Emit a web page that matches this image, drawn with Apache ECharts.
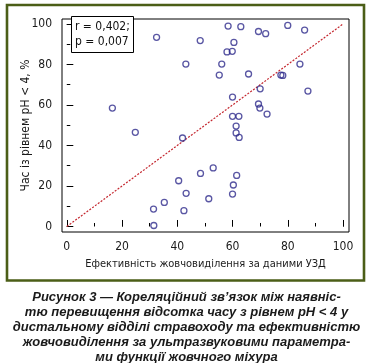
<!DOCTYPE html>
<html>
<head>
<meta charset="utf-8">
<script src="https://cdn.jsdelivr.net/npm/echarts@6/dist/echarts.min.js"></script>
<style>
html,body{margin:0;padding:0;background:#fff;}
#c{width:373px;height:363px;}
</style>
</head>
<body>
<div id="c"></div>
<script>
// Data
const xValues = [16.5, 24.8, 31.5, 31.4, 32.5, 35.3, 40.5, 41.9, 42.4, 43.2, 43.1, 48.3, 48.4, 51.4, 53.0,
  55.2, 56.1, 58.0, 59.9, 58.4, 60.0, 60.5, 60.0, 62.3, 61.3, 61.3, 62.4, 61.5, 60.3, 60.0,
  63.0, 65.8, 69.4, 72.0, 70.0, 69.4, 69.9, 72.5, 77.5, 78.2, 80.0, 84.4, 86.1, 87.3];
const yValues = [58.5, 46.5, 0.5, 8.6, 93.4, 11.9, 22.6, 43.7, 7.8, 16.4, 80.2, 91.8, 26.2, 13.7, 28.9,
  74.8, 80.2, 86.2, 86.5, 99.0, 63.9, 90.9, 54.4, 54.4, 49.6, 46.2, 44.0, 25.2, 20.5, 16.0,
  98.7, 75.3, 96.3, 95.2, 68.0, 60.5, 58.5, 55.5, 74.8, 74.6, 99.3, 80.2, 97.0, 66.9];
const refLineX = [0, 100];
const refLineY = [0, 100];
const majorTicks = [0, 20, 40, 60, 80, 100];
const minorTicks = [0, 10, 20, 30, 40, 50, 60, 70, 80, 90, 100];
const xAxisName = 'Ефективність жовчовиділення за даними УЗД';
const yAxisName = 'Час із рівнем pH < 4, %';
const statsText = 'r = 0,402;\np = 0,007';
const captionLines = [
  'Рисунок 3 — Кореляційний зв’язок між наявніс-',
  'тю перевищення відсотка часу з рівнем pH < 4 у',
  'дистальному відділі стравоходу та ефективністю',
  'жовчовиділення за ультразвуковими параметра-',
  'ми функції жовчного міхура'
];

const narrow = "'Liberation Sans Narrow', 'Arial Narrow', 'DejaVu Sans Condensed', sans-serif";
const scatterData = xValues.map((x, i) => [x, yValues[i]]);
const lineData = refLineX.map((x, i) => [x, refLineY[i]]);

const X_MIN = -1.74, X_MAX = 102.17, Y_MIN = -2.72, Y_MAX = 102.47;

const chart = echarts.init(document.getElementById('c'), null, {renderer: 'canvas'});
chart.setOption({
  animation: false,
  backgroundColor: '#fff',
  title: {
    text: statsText,
    left: 71, top: 16,
    padding: [3, 4, 4, 4],
    borderWidth: 1, borderColor: '#000',
    backgroundColor: '#fff',
    textStyle: {fontFamily: narrow, fontSize: 12, fontWeight: 'normal', lineHeight: 15, color: '#111'}
  },
  grid: {left: 62, right: 24, top: 19, bottom: 131, show: true, borderColor: '#000', borderWidth: 1, backgroundColor: 'transparent'},
  xAxis: [{
    type: 'value', min: X_MIN, max: X_MAX,
    axisLine: {show: false}, splitLine: {show: false},
    axisTick: {show: true, inside: true, length: 3.5, lineStyle: {color: '#000'}, customValues: minorTicks},
    axisLabel: {show: false}
  }, {
    type: 'value', min: X_MIN, max: X_MAX, position: 'bottom',
    axisLine: {show: false}, splitLine: {show: false},
    axisTick: {show: true, inside: true, length: 6.5, lineStyle: {color: '#000'}, customValues: majorTicks},
    axisLabel: {show: true, customValues: majorTicks, margin: 9, fontFamily: narrow, fontSize: 12, color: '#1a1a1a'},
    name: xAxisName, nameLocation: 'middle', nameGap: 27, nameMoveOverlap: false,
    nameTextStyle: {fontFamily: narrow, fontSize: 11, color: '#1a1a1a'}
  }],
  yAxis: [{
    type: 'value', min: Y_MIN, max: Y_MAX,
    axisLine: {show: false}, splitLine: {show: false},
    axisTick: {show: true, inside: true, length: 3.5, lineStyle: {color: '#000'}, customValues: minorTicks},
    axisLabel: {show: false}
  }, {
    type: 'value', min: Y_MIN, max: Y_MAX, position: 'left',
    axisLine: {show: false}, splitLine: {show: false},
    axisTick: {show: true, inside: true, length: 6.5, lineStyle: {color: '#000'}, customValues: majorTicks},
    axisLabel: {show: true, customValues: majorTicks, margin: 10, fontFamily: narrow, fontSize: 12, color: '#1a1a1a'},
    name: yAxisName, nameLocation: 'middle', nameGap: 30, nameMoveOverlap: false,
    nameTextStyle: {fontFamily: narrow, fontSize: 12, color: '#1a1a1a'}
  }],
  series: [{
    type: 'line', xAxisIndex: 0, yAxisIndex: 0,
    data: lineData, symbol: 'none',
    lineStyle: {color: '#c4262e', width: 1.2, type: [2, 1.5]},
    z: 2
  }, {
    type: 'scatter', xAxisIndex: 0, yAxisIndex: 0,
    data: scatterData, symbol: 'circle', symbolSize: 6,
    itemStyle: {color: 'rgba(255,255,255,0)', borderColor: '#2f2c8c', borderWidth: 1.3},
    z: 3
  }],
  graphic: [{
    type: 'rect', silent: true,
    shape: {x: 7, y: 5, width: 357, height: 275.5},
    style: {fill: 'none', stroke: '#4b5e17', lineWidth: 2.6}
  }, {
    type: 'text', left: 'center', top: 290,
    style: {
      text: captionLines.join('\n'),
      textAlign: 'center',
      fill: '#1a1a1a',
      font: 'italic bold 13px "Liberation Sans", Arial, sans-serif',
      lineHeight: 15
    }
  }]
});
</script>
</body>
</html>
